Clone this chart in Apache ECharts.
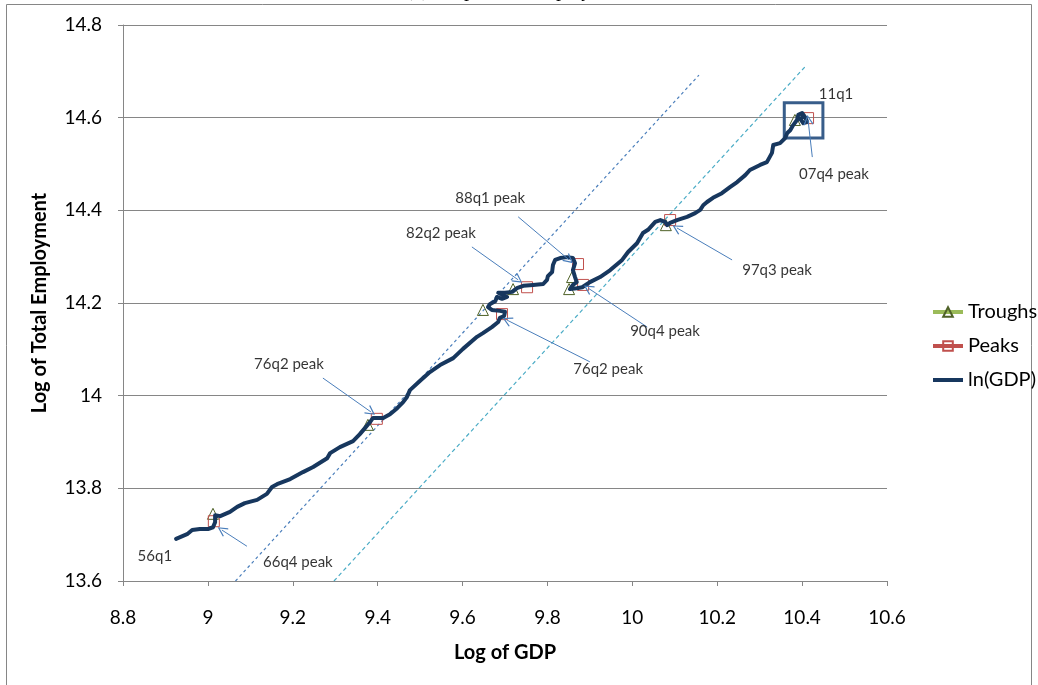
<!DOCTYPE html>
<html>
<head>
<meta charset="utf-8">
<script src="https://cdn.jsdelivr.net/npm/echarts@6/dist/echarts.min.js"></script>
<style>
  html, body { margin: 0; padding: 0; background: #ffffff; }
  #chart { width: 1038px; height: 685px; }
</style>
</head>
<body>
<div id="chart"></div>
<script>
// Path of log output against log employment, 1956q1 to 2011q1
const pathGDP = [8.925, 8.951, 8.963, 8.981, 9.000, 9.012, 9.017, 9.017, 9.021, 9.029, 9.052, 9.069, 9.087, 9.116,
  9.139, 9.151, 9.163, 9.194, 9.224, 9.248, 9.281, 9.288, 9.311, 9.342, 9.358, 9.370, 9.382, 9.389, 9.413, 9.429,
  9.446, 9.460, 9.469, 9.476, 9.500, 9.523, 9.547, 9.578, 9.601, 9.634, 9.648, 9.669, 9.684, 9.688, 9.698, 9.700,
  9.688, 9.669, 9.660, 9.665, 9.677, 9.681, 9.693, 9.705, 9.684, 9.700, 9.717, 9.728, 9.743, 9.766, 9.790, 9.799,
  9.801, 9.811, 9.813, 9.818, 9.830, 9.846, 9.860, 9.865, 9.860, 9.865, 9.869, 9.860, 9.853, 9.869, 9.882, 9.900,
  9.924, 9.948, 9.976, 9.990, 10.011, 10.025, 10.037, 10.054, 10.066, 10.077, 10.082, 10.089, 10.105, 10.129,
  10.148, 10.160, 10.167, 10.176, 10.190, 10.211, 10.230, 10.247, 10.266, 10.277, 10.301, 10.317, 10.329, 10.332,
  10.348, 10.360, 10.365, 10.372, 10.379, 10.388, 10.391, 10.400, 10.407, 10.412, 10.403, 10.396, 10.405];
const pathEmp = [13.691, 13.701, 13.710, 13.712, 13.712, 13.716, 13.727, 13.742, 13.745, 13.740, 13.749, 13.760,
  13.768, 13.775, 13.788, 13.803, 13.809, 13.820, 13.835, 13.846, 13.865, 13.876, 13.889, 13.902, 13.917, 13.930,
  13.943, 13.952, 13.952, 13.960, 13.973, 13.986, 13.997, 14.012, 14.032, 14.051, 14.066, 14.081, 14.101, 14.127,
  14.135, 14.148, 14.159, 14.168, 14.172, 14.181, 14.183, 14.185, 14.191, 14.198, 14.204, 14.213, 14.209, 14.213,
  14.222, 14.222, 14.224, 14.232, 14.237, 14.239, 14.241, 14.250, 14.258, 14.267, 14.282, 14.293, 14.297, 14.299,
  14.297, 14.286, 14.271, 14.256, 14.245, 14.239, 14.230, 14.232, 14.234, 14.245, 14.256, 14.271, 14.293, 14.310,
  14.329, 14.351, 14.358, 14.375, 14.379, 14.375, 14.368, 14.373, 14.379, 14.386, 14.394, 14.401, 14.411, 14.418,
  14.427, 14.437, 14.450, 14.461, 14.476, 14.487, 14.498, 14.504, 14.524, 14.541, 14.545, 14.556, 14.567, 14.573,
  14.584, 14.595, 14.606, 14.610, 14.601, 14.591, 14.588, 14.597, 14.604];

// Business-cycle turning points
const troughGDP = [9.012, 9.377, 9.648, 9.719, 9.858, 9.851, 10.079, 10.383];
const troughEmp = [13.745, 13.937, 14.185, 14.230, 14.256, 14.230, 14.368, 14.595];
const peakGDP = [9.014, 9.398, 9.693, 9.752, 9.872, 9.884, 10.089, 10.414];
const peakEmp = [13.729, 13.950, 14.176, 14.234, 14.284, 14.239, 14.379, 14.599];

// Unit-slope reference lines
const refA_GDP = [9.065, 10.157];
const refA_Emp = [13.6, 14.692];
const refB_GDP = [9.297, 10.408];
const refB_Emp = [13.6, 14.711];

// Callout texts and where they sit
const noteText = ['56q1', '66q4 peak', '76q2 peak', '82q2 peak', '88q1 peak', '76q2 peak', '90q4 peak', '97q3 peak', '11q1', '07q4 peak'];
const noteGDP = [8.875, 9.212, 9.191, 9.549, 9.665, 9.943, 10.077, 10.341, 10.480, 10.475];
const noteEmp = [13.654, 13.641, 14.068, 14.351, 14.427, 14.058, 14.140, 14.271, 14.651, 14.478];

// Callout arrows (tail -> head)
const arrowFromGDP = [9.092, 9.271, 9.622, 9.731, 9.900, 10.035, 10.235, 10.424];
const arrowFromEmp = [13.675, 14.038, 14.321, 14.386, 14.073, 14.148, 14.293, 14.515];
const arrowToGDP = [9.033, 9.384, 9.731, 9.851, 9.705, 9.896, 10.105, 10.414];
const arrowToEmp = [13.710, 13.965, 14.250, 14.293, 14.163, 14.232, 14.362, 14.595];

// Box around the latest observations
const boxGDP = [10.358, 10.449];
const boxEmp = [14.632, 14.556];

// Axis ranges
const xMin = 8.8, xMax = 10.6, xStep = 0.2;
const yMin = 13.6, yMax = 14.8, yStep = 0.2;

const FONT = 'Lato, "Liberation Sans", Arial, sans-serif';
const GRID = '#868686';
const NAVY = '#17375E';
const GREEN = '#9BBB59';
const RED = '#C0504D';

const zip = (a, b) => a.map((v, i) => [v, b[i]]);
// isolated markers: break the line between every point
const isolated = (a, b) => {
  const out = [];
  a.forEach((v, i) => { if (i) out.push(['-', '-']); out.push([v, b[i]]); });
  return out;
};

const arrowHead = 'path://M5,0 L10,9 L9,9.7 L5,2.3 L1,9.7 L0,9 Z';

const chart = echarts.init(document.getElementById('chart'), null, { renderer: 'canvas' });

chart.setOption({
  animation: false,
  backgroundColor: '#ffffff',
  graphic: [
    {
      type: 'rect', silent: true, z: -10,
      shape: { x: 6.5, y: 4.5, width: 1025, height: 700 },
      style: { fill: 'none', stroke: GRID, lineWidth: 1 }
    },
    {
      type: 'text', left: 'center', top: -19, silent: true,
      style: { text: '(a) Output and Employment', font: 'italic 20px "Liberation Serif", serif', fill: '#000' }
    }
  ],
  grid: { left: 123, right: 151, top: 25, bottom: 104, containLabel: false },
  xAxis: {
    type: 'value', min: xMin, max: xMax, interval: xStep,
    name: 'Log of GDP', nameLocation: 'middle', nameGap: 62,
    nameTextStyle: { fontFamily: FONT, fontWeight: 'bold', fontSize: 20, color: '#000' },
    axisLine: { show: true, lineStyle: { color: GRID, width: 1 } },
    axisTick: { show: true, length: 5, lineStyle: { color: GRID } },
    axisLabel: { fontFamily: FONT, fontSize: 19, color: '#000', margin: 27 },
    splitLine: { show: false }
  },
  yAxis: {
    type: 'value', min: yMin, max: yMax, interval: yStep,
    name: 'Log of Total Employment', nameLocation: 'middle', nameGap: 73, nameRotate: 90,
    nameTextStyle: { fontFamily: FONT, fontWeight: 'bold', fontSize: 20, color: '#000' },
    axisLine: { show: true, lineStyle: { color: GRID, width: 1 } },
    axisTick: { show: true, length: 5, lineStyle: { color: GRID } },
    axisLabel: { fontFamily: FONT, fontSize: 19, color: '#000', margin: 21 },
    splitLine: { show: true, lineStyle: { color: GRID, width: 1 } }
  },
  legend: {
    orient: 'vertical', left: 926, top: 297, itemWidth: 30, itemHeight: 12, itemGap: 14,
    textStyle: { fontFamily: FONT, fontSize: 20, color: '#000' },
    data: [
      { name: 'Troughs', lineStyle: { width: 4, color: GREEN } },
      { name: 'Peaks', lineStyle: { width: 4, color: RED } },
      { name: 'ln(GDP)', icon: 'path://M0,0 H30 V4 H0 Z', itemStyle: { color: NAVY } }
    ]
  },
  series: [
    {
      name: 'refA', type: 'line', data: zip(refA_GDP, refA_Emp), symbol: 'none', silent: true, z: 1,
      lineStyle: { color: '#4A7EBB', width: 1.2, type: [3, 3] }
    },
    {
      name: 'refB', type: 'line', data: zip(refB_GDP, refB_Emp), symbol: 'none', silent: true, z: 1,
      lineStyle: { color: '#4BACC6', width: 1.2, type: [4, 3] }
    },
    {
      name: 'Troughs', type: 'line', data: isolated(troughGDP, troughEmp), connectNulls: false,
      symbol: 'triangle', symbolSize: 11, showSymbol: true, showAllSymbol: true, z: 3,
      lineStyle: { color: GREEN, width: 4 },
      itemStyle: { color: 'rgba(255,255,255,0)', borderColor: '#4F6228', borderWidth: 1 }
    },
    {
      name: 'Peaks', type: 'line', data: isolated(peakGDP, peakEmp), connectNulls: false,
      symbol: 'rect', symbolSize: 11, showSymbol: true, showAllSymbol: true, z: 3,
      lineStyle: { color: RED, width: 4 },
      itemStyle: { color: 'rgba(255,255,255,0)', borderColor: RED, borderWidth: 1 }
    },
    {
      name: 'ln(GDP)', type: 'line', data: zip(pathGDP, pathEmp), symbol: 'none', z: 4,
      lineStyle: { color: NAVY, width: 4, cap: 'round', join: 'round' },
      itemStyle: { color: NAVY }
    },
    {
      name: 'callouts', type: 'scatter', silent: true, z: 6,
      data: noteText.map((t, i) => [noteGDP[i], noteEmp[i], t]),
      symbolSize: 1, itemStyle: { color: 'rgba(0,0,0,0)' },
      label: {
        show: true, position: 'inside', formatter: p => p.value[2],
        fontFamily: FONT, fontSize: 15, color: '#000'
      },
      markLine: {
        silent: true, symbol: ['none', arrowHead], symbolSize: [10, 10],
        lineStyle: { color: '#4A7EBB', width: 1, type: 'solid' },
        label: { show: false },
        data: arrowFromGDP.map((v, i) => [
          { coord: [v, arrowFromEmp[i]] },
          { coord: [arrowToGDP[i], arrowToEmp[i]] }
        ])
      },
      markArea: {
        silent: true,
        itemStyle: { color: 'rgba(0,0,0,0)', borderColor: '#385D8A', borderWidth: 3 },
        data: [[{ coord: [boxGDP[0], boxEmp[0]] }, { coord: [boxGDP[1], boxEmp[1]] }]]
      }
    }
  ]
});
</script>
</body>
</html>
